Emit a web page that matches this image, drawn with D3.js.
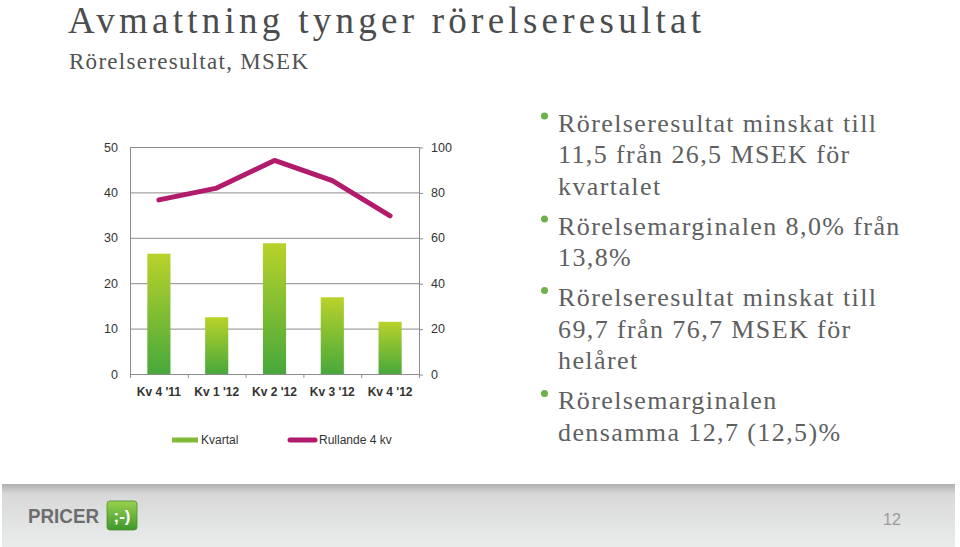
<!DOCTYPE html>
<html>
<head>
<meta charset="utf-8">
<script src="https://cdn.jsdelivr.net/npm/d3@7"></script>
<style>
  body { margin: 0; background: #fff; }
  svg { display: block; }
</style>
</head>
<body>
<div id="slide"></div>
<script>
// data
const quarters = ["Kv 4 '11", "Kv 1 '12", "Kv 2 '12", "Kv 3 '12", "Kv 4 '12"];
const kvartal = [26.5, 12.5, 28.8, 16.9, 11.5];
const rullande = [76.7, 81.9, 94.1, 85.2, 69.7];
const leftTicks = [0, 10, 20, 30, 40, 50];
const rightTicks = [0, 20, 40, 60, 80, 100];
const seriesNames = ["Kvartal", "Rullande 4 kv"];
const bullets = [
  ["Rörelseresultat minskat till", "11,5 från 26,5 MSEK för", "kvartalet"],
  ["Rörelsemarginalen 8,0% från", "13,8%"],
  ["Rörelseresultat minskat till", "69,7 från 76,7 MSEK för", "helåret"],
  ["Rörelsemarginalen", "densamma 12,7 (12,5)%"]
];

var W = 960, H = 547;
var cMargin = {top: 147, left: 130},
    cWidth = 289,
    cHeight = 227;
var sans = "'Liberation Sans', Arial, sans-serif",
    serif = "'Liberation Serif', 'Times New Roman', serif";

var svg = d3.select('#slide').append('svg')
  .attr('width', W)
  .attr('height', H);

var defs = svg.append('defs');
var barGrad = defs.append('linearGradient')
  .attr('id', 'barGrad').attr('x1', 0).attr('y1', 0).attr('x2', 0).attr('y2', 1);
barGrad.append('stop').attr('offset', '0%').attr('stop-color', '#b9d22a');
barGrad.append('stop').attr('offset', '100%').attr('stop-color', '#47a83b');

var footGrad = defs.append('linearGradient')
  .attr('id', 'footGrad').attr('x1', 0).attr('y1', 0).attr('x2', 0).attr('y2', 1);
footGrad.append('stop').attr('offset', '0%').attr('stop-color', '#b0b0b0');
footGrad.append('stop').attr('offset', '16%').attr('stop-color', '#d8d8d8');
footGrad.append('stop').attr('offset', '100%').attr('stop-color', '#eaecec');

var logoGrad = defs.append('linearGradient')
  .attr('id', 'logoGrad').attr('x1', 0).attr('y1', 0).attr('x2', 0).attr('y2', 1);
logoGrad.append('stop').attr('offset', '0%').attr('stop-color', '#9ad04e');
logoGrad.append('stop').attr('offset', '100%').attr('stop-color', '#3c982b');

// title
svg.append('text')
  .attr('x', 68).attr('y', 33)
  .attr('textLength', 633).attr('lengthAdjust', 'spacing')
  .style('font-family', serif).style('font-size', '37px')
  .style('fill', '#4a4c4d')
  .text('Avmattning tynger rörelseresultat');

svg.append('text')
  .attr('x', 69).attr('y', 69)
  .attr('textLength', 239).attr('lengthAdjust', 'spacing')
  .style('font-family', serif).style('font-size', '23px')
  .style('fill', '#505253')
  .text('Rörelseresultat, MSEK');

// chart
var g = svg.append('g')
  .attr('transform', 'translate(' + cMargin.left + ',' + cMargin.top + ')');

var x0 = d3.scaleBand()
  .domain(quarters)
  .range([0, cWidth])
  .paddingInner(0.6)
  .paddingOuter(0.3);

var xPoint = d3.scaleBand().domain(quarters).range([0, cWidth]);

var yL = d3.scaleLinear().domain([0, 50]).range([cHeight, 0]);
var yR = d3.scaleLinear().domain([0, 100]).range([cHeight, 0]);

// gridlines
g.selectAll('.grid')
  .data(leftTicks)
  .enter().append('line')
  .attr('class', 'grid')
  .attr('x1', 0).attr('x2', cWidth)
  .attr('y1', function(d) { return yL(d) + 0.5; })
  .attr('y2', function(d) { return yL(d) + 0.5; })
  .style('stroke', '#8c8c8c').style('stroke-width', 1);

// left axis
var yAxisL = d3.axisLeft(yL).tickValues(leftTicks).tickSize(0).tickPadding(12);
g.append('g').attr('class', 'yaxis').call(yAxisL);

// right axis
var yAxisR = d3.axisRight(yR).tickValues(rightTicks).tickSize(4).tickPadding(8);
g.append('g').attr('class', 'yaxis2')
  .attr('transform', 'translate(' + cWidth + ',0)')
  .call(yAxisR);

g.selectAll('.yaxis path, .yaxis2 path')
  .attr('d', 'M0.5,0V' + cHeight)
  .style('stroke', '#8c8c8c');
g.selectAll('.yaxis2 .tick line')
  .attr('transform', 'translate(0,0.5)')
  .style('stroke', '#8c8c8c');
g.selectAll('.yaxis text, .yaxis2 text')
  .style('font-family', sans).style('font-size', '12.5px').style('fill', '#333');

// x axis: ticks at category boundaries
var xAxis = d3.axisBottom(x0).tickSize(0).tickPadding(13);
var xg = g.append('g').attr('class', 'xaxis')
  .attr('transform', 'translate(0,' + cHeight + ')')
  .call(xAxis);
xg.select('path').remove();
xg.selectAll('text')
  .style('font-family', sans).style('font-size', '12px')
  .style('font-weight', 'bold').style('fill', '#333');
xg.selectAll('.bound')
  .data(d3.range(quarters.length + 1))
  .enter().append('line')
  .attr('class', 'bound')
  .attr('x1', function(i) { return i * xPoint.step() + 0.5; })
  .attr('x2', function(i) { return i * xPoint.step() + 0.5; })
  .attr('y1', 0).attr('y2', 4)
  .style('stroke', '#8c8c8c');

// bars
g.selectAll('.bar')
  .data(kvartal)
  .enter().append('rect')
  .attr('class', 'bar')
  .attr('x', function(d, i) { return x0(quarters[i]); })
  .attr('width', x0.bandwidth())
  .attr('y', function(d) { return yL(d); })
  .attr('height', function(d) { return cHeight - yL(d); })
  .attr('fill', 'url(#barGrad)');

// rolling line
var line = d3.line()
  .x(function(d, i) { return xPoint(quarters[i]) + xPoint.bandwidth() / 2; })
  .y(function(d) { return yR(d); });

g.append('path')
  .datum(rullande)
  .attr('d', line)
  .style('fill', 'none')
  .style('stroke', '#b21a6c')
  .style('stroke-width', 5)
  .style('stroke-linejoin', 'round')
  .style('stroke-linecap', 'round');

// legend
var legend = svg.append('g').attr('class', 'legend');
legend.append('rect')
  .attr('x', 172).attr('y', 437.5).attr('width', 26).attr('height', 5)
  .attr('fill', '#80ba36');
legend.append('text')
  .attr('x', 201).attr('y', 444)
  .style('font-family', sans).style('font-size', '12px').style('fill', '#333')
  .text(seriesNames[0]);
legend.append('line')
  .attr('x1', 290).attr('x2', 315).attr('y1', 440).attr('y2', 440)
  .style('stroke', '#b21a6c').style('stroke-width', 5).style('stroke-linecap', 'round');
legend.append('text')
  .attr('x', 319).attr('y', 444)
  .style('font-family', sans).style('font-size', '12px').style('fill', '#333')
  .text(seriesNames[1]);

// bullet text
var lineH = 31.5, paraGap = 8.5, yCur = 131.5;
bullets.forEach(function(para) {
  svg.append('circle')
    .attr('cx', 544.5).attr('cy', yCur - 15.5).attr('r', 3.5)
    .attr('fill', '#6cb14a');
  para.forEach(function(t) {
    svg.append('text')
      .attr('x', 558).attr('y', yCur)
      .style('font-family', serif).style('font-size', '26px')
      .style('letter-spacing', '1.4px')
      .style('fill', '#5e6061')
      .text(t);
    yCur += lineH;
  });
  yCur += paraGap;
});

// footer band
svg.append('rect')
  .attr('x', 2).attr('y', 484).attr('width', 953).attr('height', 63)
  .attr('fill', 'url(#footGrad)');

svg.append('text')
  .attr('x', 28).attr('y', 522.5)
  .attr('textLength', 71).attr('lengthAdjust', 'spacingAndGlyphs')
  .style('font-family', sans).style('font-size', '21px').style('font-weight', 'bold')
  .style('fill', '#6c6d6e')
  .text('PRICER');

svg.append('rect')
  .attr('x', 107).attr('y', 501).attr('width', 30).attr('height', 29).attr('rx', 3)
  .attr('fill', 'url(#logoGrad)')
  .style('stroke', '#4b8f2f').style('stroke-width', 0.8);
svg.append('text')
  .attr('x', 122).attr('y', 521.5)
  .attr('text-anchor', 'middle')
  .style('font-family', sans).style('font-size', '17px').style('font-weight', 'bold')
  .style('fill', '#fff')
  .text(';-)');

svg.append('text')
  .attr('x', 883).attr('y', 525)
  .style('font-family', sans).style('font-size', '16px')
  .style('fill', '#9a9a9a')
  .text('12');
</script>
</body>
</html>
